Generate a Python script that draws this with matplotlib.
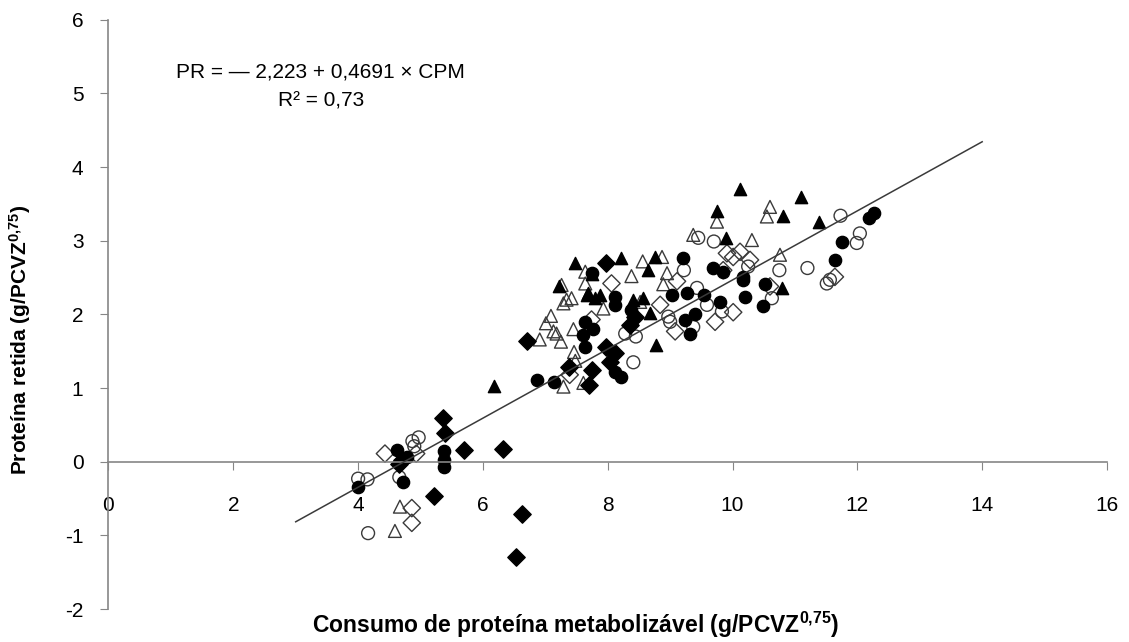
import numpy as np
import matplotlib.pyplot as plt

plt.rcParams['font.family'] = ['Liberation Sans', 'DejaVu Sans']
plt.rcParams['axes.unicode_minus'] = False
plt.rcParams['mathtext.fontset'] = 'custom'
plt.rcParams['mathtext.rm'] = 'Liberation Sans:bold'
plt.rcParams['mathtext.default'] = 'rm'

# filled circles
fc_x = [6.86, 7.14, 5.37, 5.37, 5.37, 4.62, 4.78, 4.00, 4.72, 7.74, 7.64, 7.77, 7.60, 7.64,
        8.12, 8.12, 8.38, 9.20, 9.03, 9.27, 9.54, 9.80, 9.69, 9.85, 10.17, 10.20, 9.24, 9.40,
        9.32, 12.26, 12.19, 11.75, 11.64, 10.52, 10.49, 10.17, 8.12, 8.22]
fc_y = [1.11, 1.08, 0.14, 0.02, -0.07, 0.16, 0.07, -0.35, -0.27, 2.56, 1.90, 1.80, 1.72, 1.56,
        2.24, 2.13, 2.06, 2.76, 2.27, 2.29, 2.26, 2.17, 2.63, 2.58, 2.51, 2.24, 1.93, 2.01,
        1.74, 3.38, 3.31, 2.99, 2.74, 2.41, 2.12, 2.47, 1.22, 1.15]

# open circles
oc_x = [4.00, 4.15, 4.66, 4.16, 4.97, 4.87, 4.90, 9.45, 9.70, 9.22, 9.43, 9.59, 9.83, 10.25,
        8.28, 8.45, 8.41, 8.97, 9.00, 9.37, 11.73, 12.04, 11.99, 11.20, 11.51, 11.56, 10.75, 10.63]
oc_y = [-0.23, -0.24, -0.21, -0.97, 0.33, 0.28, 0.21, 3.04, 2.99, 2.60, 2.36, 2.13, 2.04, 2.65,
        1.74, 1.70, 1.35, 1.97, 1.90, 1.83, 3.34, 3.10, 2.97, 2.63, 2.42, 2.47, 2.60, 2.22]

# filled triangles
ft_x = [6.18, 7.22, 7.48, 7.68, 7.80, 10.12, 9.75, 9.89, 8.22, 8.75, 8.65, 7.66, 7.88, 8.41,
        8.56, 8.68, 8.78, 11.09, 10.81, 11.38, 10.79, 7.74]
ft_y = [1.03, 2.38, 2.70, 2.29, 2.22, 3.70, 3.40, 3.04, 2.76, 2.78, 2.60, 2.26, 2.26, 2.20,
        2.22, 2.02, 1.59, 3.59, 3.33, 3.25, 2.36, 2.55]

# open triangles
ot_x = [4.67, 4.59, 6.91, 7.01, 7.09, 7.18, 7.25, 7.29, 7.42, 7.26, 7.64, 7.64, 7.45, 7.46,
        7.48, 7.29, 7.61, 9.75, 9.37, 10.31, 8.56, 8.87, 8.95, 8.89, 8.38, 7.93, 8.52,
        10.60, 10.55, 10.76, 7.34, 7.13]
ot_y = [-0.61, -0.94, 1.66, 1.88, 1.98, 1.74, 1.63, 2.15, 2.22, 2.40, 2.58, 2.42, 1.80, 1.49,
        1.37, 1.02, 1.07, 3.26, 3.08, 3.01, 2.72, 2.78, 2.56, 2.41, 2.52, 2.08, 2.17,
        3.46, 3.33, 2.81, 2.20, 1.77]

# filled diamonds
fd_x = [5.36, 5.39, 5.69, 6.32, 4.70, 4.65, 5.22, 6.62, 6.53, 6.71, 7.38, 7.74, 7.70, 7.98,
        8.36, 8.44, 7.98, 8.12, 8.04]
fd_y = [0.60, 0.39, 0.16, 0.17, 0.02, -0.03, -0.47, -0.71, -1.29, 1.64, 1.29, 1.25, 1.04, 2.70,
        1.86, 1.97, 1.56, 1.47, 1.36]

# open diamonds
od_x = [4.43, 4.93, 4.86, 4.86, 7.39, 7.74, 8.06, 9.11, 8.84, 10.01, 9.72, 9.91, 10.01, 10.12,
        10.28, 9.08, 11.64, 10.60, 9.85]
od_y = [0.11, 0.11, -0.63, -0.83, 1.18, 1.93, 2.42, 2.45, 2.13, 2.03, 1.90, 2.83, 2.78, 2.85,
        2.74, 1.77, 2.51, 2.38, 2.60]

a0, a1 = -2.223, 0.4691
fit_x = np.array([3, 14])

fig = plt.figure(figsize=(11.29, 6.42), dpi=100)
ax = fig.add_axes([0.0961, 0.0514, 0.8844, 0.9177])

ms = 78
edge = '#3a3a3a'
ax.scatter(od_x, od_y, s=ms, marker='D', facecolor='none', edgecolor=edge, linewidth=1, zorder=2)
ax.scatter(oc_x, oc_y, s=ms * 1.1, marker='o', facecolor='none', edgecolor=edge, linewidth=1, zorder=2)
ax.scatter(ot_x, ot_y, s=ms * 1.1, marker='^', facecolor='none', edgecolor=edge, linewidth=1, zorder=2)
ax.scatter(fd_x, fd_y, s=ms, marker='D', color='black', zorder=2)
ax.scatter(fc_x, fc_y, s=ms, marker='o', color='black', zorder=2)
ax.scatter(ft_x, ft_y, s=ms, marker='^', color='black', zorder=2)
ax.plot(fit_x, a0 + a1 * fit_x, color='#3a3a3a', lw=1.1, zorder=3)

ax.set_xlim(0, 16)
ax.set_ylim(-2, 6)
ax.set_xticks(range(0, 17, 2))
ax.set_yticks(range(-2, 7))
for s in ['top', 'right']:
    ax.spines[s].set_visible(False)
ax.spines['bottom'].set_position(('data', 0))
for s in ['left', 'bottom']:
    ax.spines[s].set_color('#868686')
    ax.spines[s].set_linewidth(1.2)
ax.tick_params(axis='x', direction='out', length=6, pad=19, color='#868686', labelsize=15)
ax.tick_params(axis='y', direction='out', length=6, pad=12, color='#868686', labelsize=15)

ax.text(3.4, 5.29, 'PR = \u2014 2,223 + 0,4691 \u00d7 CPM', ha='center', va='center', fontsize=15)
ax.text(3.4, 4.90, 'R\u00b2 = 0,73', ha='center', va='center', fontsize=15)

fig.text(0.51, 0.027, 'Consumo de proteína metabolizável (g/PCVZ$^{0{,}75}$)',
         ha='center', va='center', fontsize=16.5, fontweight='bold')
fig.text(0.018, 0.47, 'Proteína retida (g/PCVZ$^{0{,}75}$)', rotation=90,
         ha='center', va='center', fontsize=15, fontweight='bold')

fig.savefig('out.png', dpi=100)
